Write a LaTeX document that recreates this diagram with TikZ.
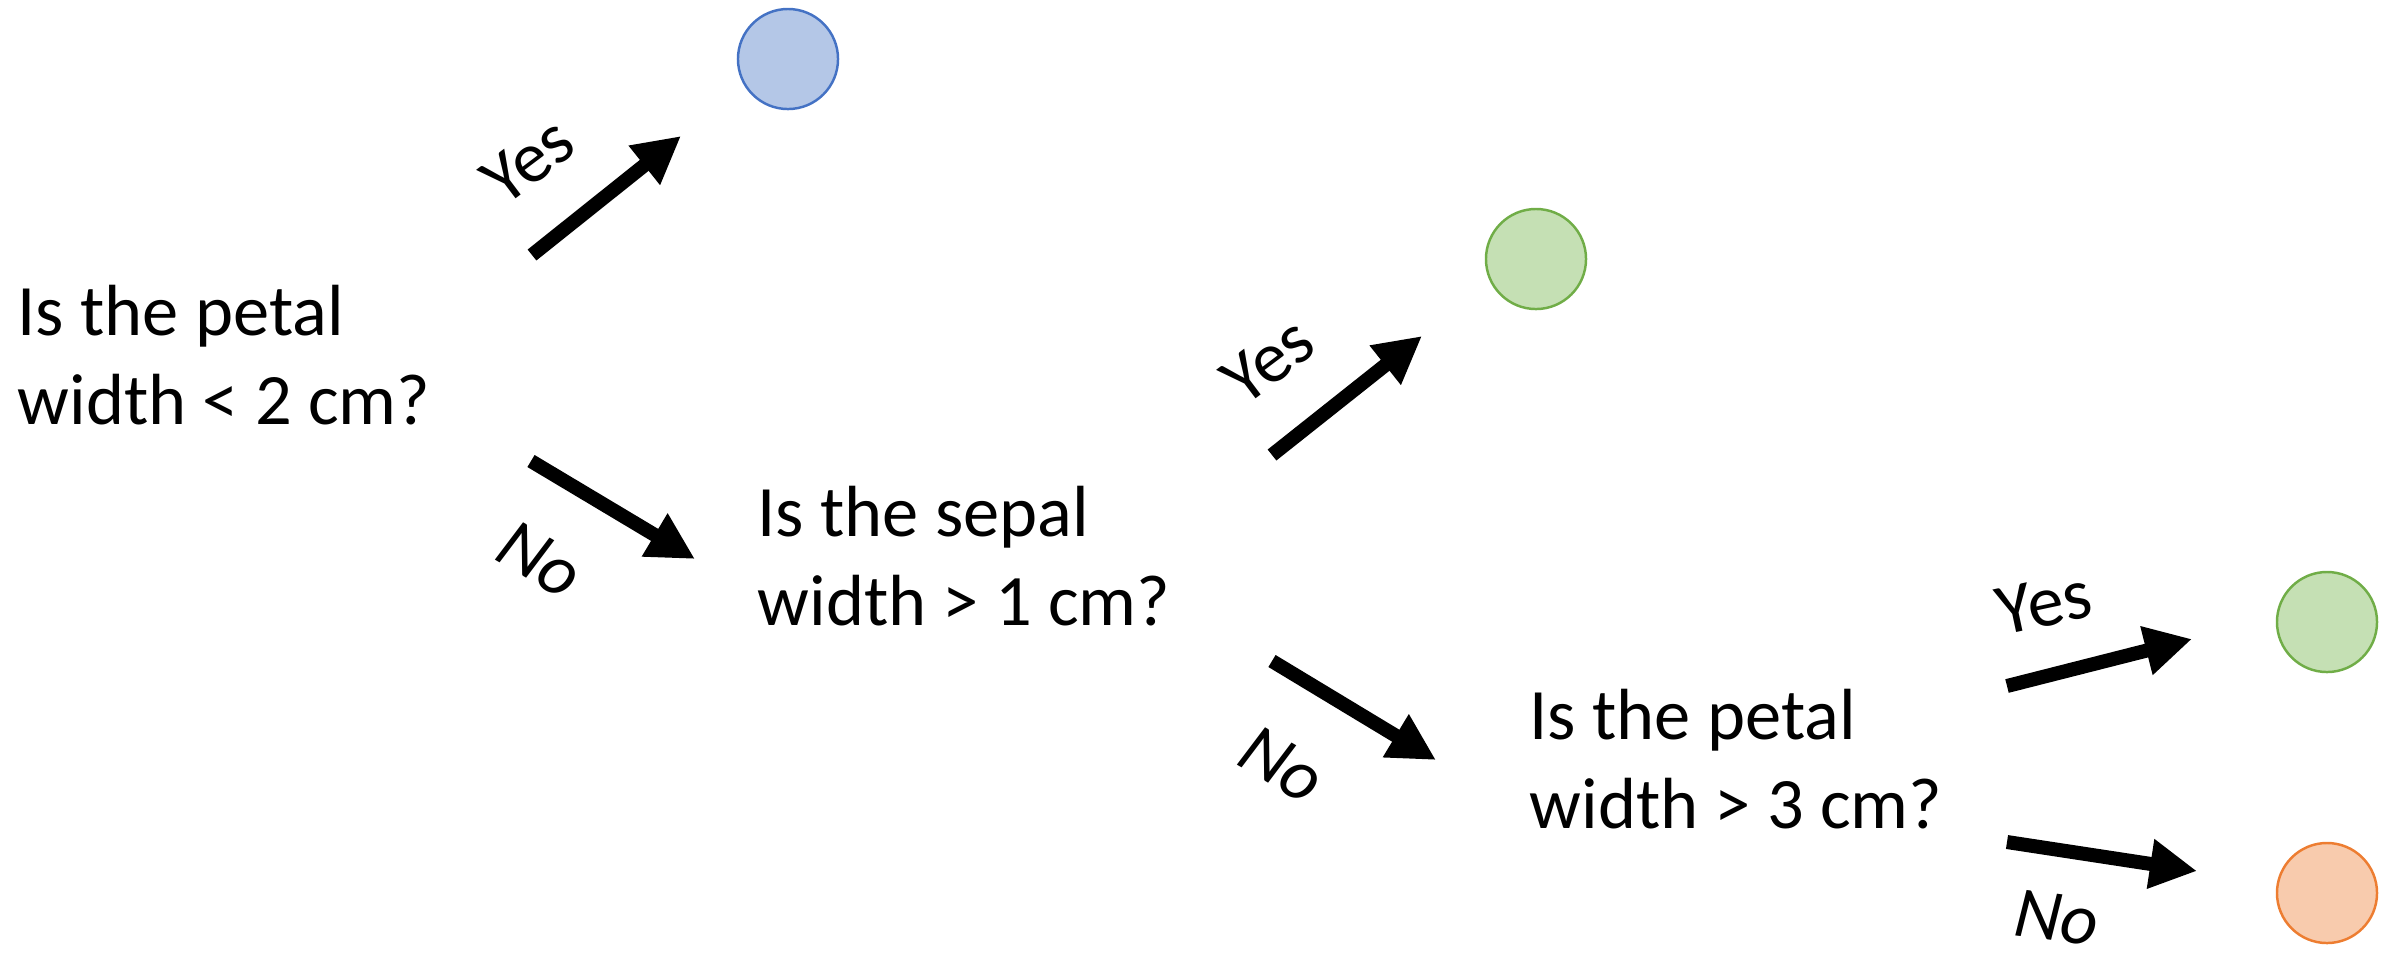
\documentclass[tikz,border=0pt]{standalone}
\usepackage{fontspec}
\setmainfont{Carlito}
\usetikzlibrary{arrows.meta}
\definecolor{blueFill}{HTML}{B4C7E7}
\definecolor{blueLine}{HTML}{4472C4}
\definecolor{greenFill}{HTML}{C5E0B4}
\definecolor{greenLine}{HTML}{70AD47}
\definecolor{orangeFill}{HTML}{F8CBAD}
\definecolor{orangeLine}{HTML}{ED7D31}
\tikzset{
  question/.style={anchor=base west, inner sep=0pt, align=left,
    font=\fontsize{20.6}{25.3}\selectfont},
  yeslabel/.style={inner sep=0pt, font=\fontsize{20.6}{25.3}\selectfont},
  nolabel/.style={inner sep=0pt, font=\fontsize{20.6}{25.3}\selectfont\itshape},
  leaf/.style={circle, minimum size=1.0cm, inner sep=0pt, line width=0.7pt},
  bigarrow/.style={line width=0.14cm, -{Triangle[length=0.47cm,width=0.47cm]}},
}
\begin{document}
\begin{tikzpicture}[x=0.01cm, y=-0.01cm]
\useasboundingbox (0,0) rectangle (2396,959);
% questions (anchor at baseline of the second line)
\node[question] (q1) at (17,424) {Is the petal\\width < 2 cm?};
\node[question] (q2) at (757,625) {Is the sepal\\width > 1 cm?};
\node[question] (q3) at (1529,828) {Is the petal\\width > 3 cm?};
% leaves
\node[leaf, draw=blueLine, fill=blueFill] (l1) at (788,59) {};
\node[leaf, draw=greenLine, fill=greenFill] (l2) at (1536,259) {};
\node[leaf, draw=greenLine, fill=greenFill] (l3) at (2327,622) {};
\node[leaf, draw=orangeLine, fill=orangeFill] (l4) at (2327,893) {};
% arrow end points
\coordinate (a1s) at (532,255); \coordinate (a1e) at (681,136);
\coordinate (a2s) at (531,461); \coordinate (a2e) at (695,559);
\coordinate (a3s) at (1272,455); \coordinate (a3e) at (1422,336);
\coordinate (a4s) at (1272,661); \coordinate (a4e) at (1436,760);
\coordinate (a5s) at (2007,686); \coordinate (a5e) at (2192,639);
\coordinate (a6s) at (2007,842); \coordinate (a6e) at (2197,871);
\draw[bigarrow] (a1s) -- (a1e);
\draw[bigarrow] (a2s) -- (a2e);
\draw[bigarrow] (a3s) -- (a3e);
\draw[bigarrow] (a4s) -- (a4e);
\draw[bigarrow] (a5s) -- (a5e);
\draw[bigarrow] (a6s) -- (a6e);
% labels
\node[yeslabel, rotate=37] (y1) at (528,161) {Yes};
\node[yeslabel, rotate=37] (y2) at (1268,361) {Yes};
\node[yeslabel, rotate=12] (y3) at (2044,603) {Yes};
\node[nolabel, rotate=-30] (n1) at (540,560) {No};
\node[nolabel, rotate=-30] (n2) at (1282,765) {No};
\node[nolabel, rotate=-7] (n3) at (2057,918) {No};
\end{tikzpicture}
\end{document}
